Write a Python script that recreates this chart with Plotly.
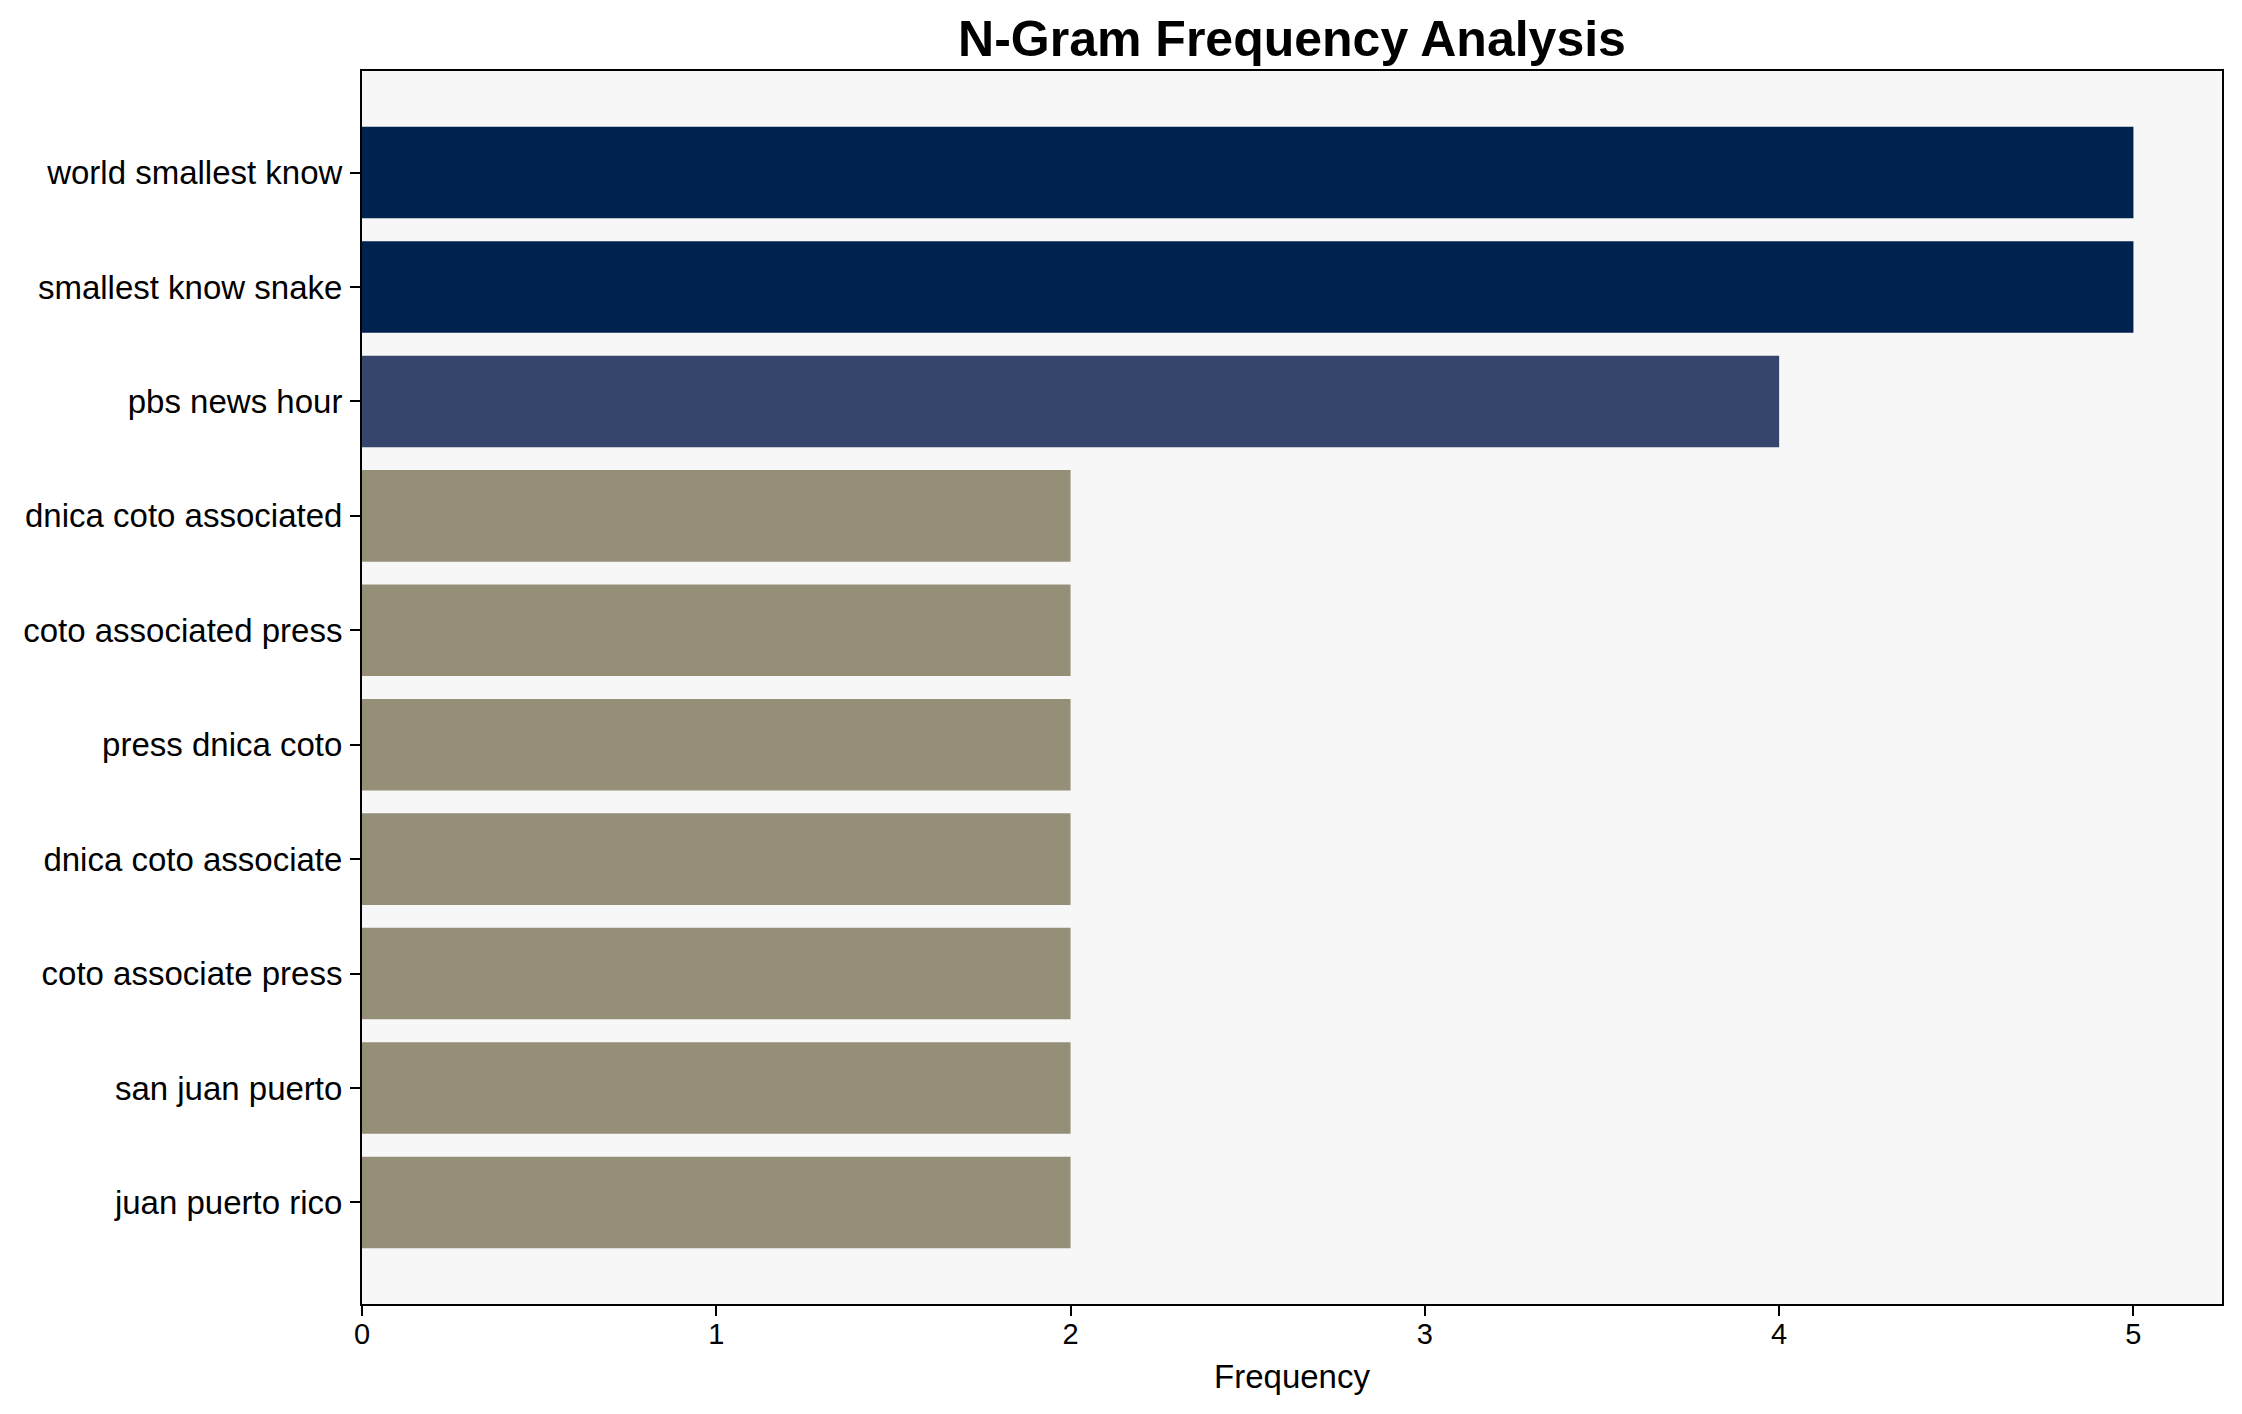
import plotly.graph_objects as go

ngrams = [
    "world smallest know",
    "smallest know snake",
    "pbs news hour",
    "dnica coto associated",
    "coto associated press",
    "press dnica coto",
    "dnica coto associate",
    "coto associate press",
    "san juan puerto",
    "juan puerto rico",
]
frequencies = [5, 5, 4, 2, 2, 2, 2, 2, 2, 2]
bar_colors = ["#00224E", "#00224E", "#35456C", "#958F78", "#958F78",
              "#958F78", "#958F78", "#958F78", "#958F78", "#958F78"]
x_ticks = [0, 1, 2, 3, 4, 5]

# page body has an 8px margin, so the figure is offset by (8, 8)
OFF = 8
W, H = 2242 - OFF, 1414 - OFF
L, R, T, B = 362 - OFF, 20, 71 - OFF, 110
FONT = "Liberation Sans, Arial, sans-serif"

fig = go.Figure(
    go.Bar(
        x=frequencies,
        y=ngrams,
        orientation="h",
        marker=dict(color=bar_colors, line=dict(width=0)),
    )
)

n = len(ngrams)
fig.update_layout(
    width=W,
    height=H,
    autosize=False,
    margin=dict(l=L, r=R, t=T, b=B, pad=0),
    paper_bgcolor="white",
    plot_bgcolor="#F7F7F7",
    bargap=0.2,
    showlegend=False,
    font=dict(family=FONT, color="black"),
    title=dict(
        text="<b>N-Gram Frequency Analysis</b>",
        font=dict(family=FONT, size=50, color="black"),
        x=(L + (W - R)) / 2 / W,
        xanchor="center",
        xref="container",
        y=1 - 30 / H,
        yanchor="middle",
        yref="container",
    ),
    xaxis=dict(
        range=[0, 5.25],
        tickvals=x_ticks,
        ticktext=[str(v) for v in x_ticks],
        ticks="outside",
        ticklen=10,
        tickwidth=2,
        tickcolor="black",
        tickfont=dict(size=29, family=FONT, color="black"),
        ticklabelstandoff=-7,
        showgrid=False,
        zeroline=False,
        showline=True,
        linecolor="black",
        linewidth=2,
        mirror=True,
        title=dict(text="Frequency", font=dict(size=33, family=FONT, color="black"), standoff=16),
    ),
    yaxis=dict(
        type="category",
        categoryorder="array",
        categoryarray=ngrams,
        range=[n - 1 + 0.8875, -0.8875],
        ticks="outside",
        ticklen=10,
        tickwidth=2,
        tickcolor="black",
        tickfont=dict(size=33, family=FONT, color="black"),
        ticklabelstandoff=1,
        showgrid=False,
        zeroline=False,
        showline=True,
        linecolor="black",
        linewidth=2,
        mirror=True,
    ),
)

fig.write_html("out.html")
